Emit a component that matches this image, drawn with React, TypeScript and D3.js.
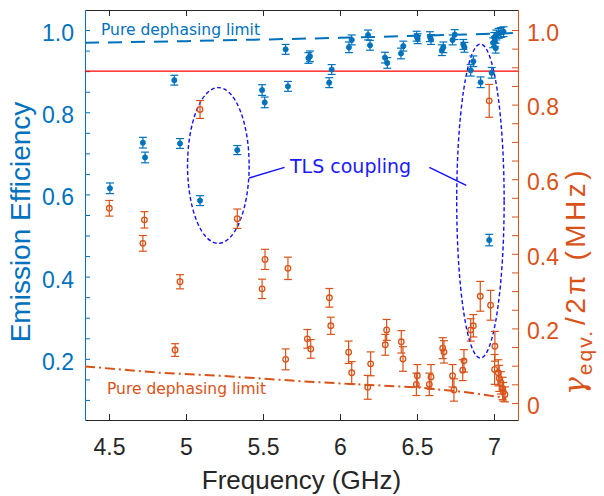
import React, { useRef, useEffect } from "react";
import * as d3 from "d3";

const W = 604;
const H = 496;

const BLUE = "#0072BD";
const ORANGE = "#D95319";
const AX = "#262626";

// Emission efficiency (left axis)
const effFreq = [
  4.506, 4.72, 4.734, 4.924, 4.961, 5.091, 5.333, 5.494, 5.511, 5.647, 5.662, 5.795, 5.805,
  5.93, 5.946, 6.058, 6.076, 6.182, 6.195, 6.292, 6.307, 6.396, 6.411, 6.498, 6.504, 6.584,
  6.591, 6.662, 6.671, 6.731, 6.745, 6.801, 6.808, 6.849, 6.866, 6.913, 6.969, 6.985, 7.006,
  7.011, 6.995, 7.002, 7.015, 7.03, 7.045, 7.062,
];
const effValue = [
  0.615, 0.726, 0.69, 0.878, 0.724, 0.585, 0.708, 0.854, 0.824, 0.953, 0.863, 0.932, 0.936,
  0.872, 0.904, 0.958, 0.976, 0.988, 0.963, 0.933, 0.92, 0.943, 0.961, 0.985, 0.979, 0.984,
  0.977, 0.951, 0.958, 0.976, 0.989, 0.965, 0.958, 0.902, 0.924, 0.873, 0.489, 0.896, 0.972,
  0.956, 0.969, 0.982, 0.988, 0.992, 0.994, 0.996,
];
const effErr = [
  0.013, 0.013, 0.013, 0.012, 0.012, 0.012, 0.011, 0.013, 0.013, 0.012, 0.012, 0.013, 0.013,
  0.012, 0.012, 0.013, 0.012, 0.012, 0.012, 0.013, 0.013, 0.013, 0.012, 0.012, 0.012, 0.012,
  0.012, 0.013, 0.013, 0.012, 0.012, 0.012, 0.012, 0.014, 0.013, 0.013, 0.014, 0.013, 0.012,
  0.012, 0.012, 0.012, 0.012, 0.012, 0.012, 0.012,
];

// gamma_eqv / 2pi in MHz (right axis)
const gamFreq = [
  4.502, 4.72, 4.73, 4.929, 4.961, 5.091, 5.333, 5.494, 5.513, 5.647, 5.662, 5.788, 5.81,
  5.931, 5.94, 6.056, 6.076, 6.18, 6.199, 6.294, 6.303, 6.398, 6.409, 6.496, 6.502, 6.58,
  6.591, 6.667, 6.675, 6.731, 6.74, 6.797, 6.805, 6.849, 6.866, 6.911, 6.969, 6.978, 7.006,
  7.004, 7.028, 7.034, 7.045, 7.056, 7.06, 7.071,
];
const gamValue = [
  0.522, 0.428, 0.491, 0.142, 0.325, 0.787, 0.494, 0.306, 0.385, 0.117, 0.361, 0.172, 0.145,
  0.282, 0.207, 0.136, 0.081, 0.042, 0.105, 0.156, 0.196, 0.164, 0.118, 0.05, 0.073, 0.05,
  0.07, 0.147, 0.137, 0.073, 0.035, 0.088, 0.113, 0.196, 0.207, 0.286, 0.81, 0.262, 0.152,
  0.09, 0.081, 0.066, 0.054, 0.039, 0.03, 0.023,
];
const gamErr = [
  0.021, 0.021, 0.022, 0.017, 0.019, 0.024, 0.026, 0.026, 0.027, 0.028, 0.03, 0.025, 0.025,
  0.025, 0.023, 0.03, 0.03, 0.032, 0.032, 0.028, 0.028, 0.03, 0.033, 0.03, 0.03, 0.03,
  0.033, 0.028, 0.03, 0.03, 0.03, 0.028, 0.03, 0.03, 0.03, 0.04, 0.044, 0.04, 0.04,
  0.04, 0.035, 0.035, 0.03, 0.03, 0.025, 0.02,
];

// pure dephasing limits
const effLimitFreq = [4.344, 5.0, 5.5, 6.0, 6.5, 7.0, 7.156];
const effLimit = [0.969, 0.973, 0.977, 0.981, 0.986, 0.991, 0.993];
const gamLimitFreq = [4.344, 4.83, 5.22, 5.8, 6.07, 6.5, 6.67, 6.82, 7.02, 7.08];
const gamLimit = [0.098, 0.081, 0.073, 0.057, 0.051, 0.042, 0.035, 0.029, 0.017, 0.013];

const xTicks = [4.5, 5, 5.5, 6, 6.5, 7];
const cutoffEff = 0.9;

export default function App() {
  const svgRef = useRef<SVGSVGElement>(null);

  useEffect(() => {
    const svg = d3.select(svgRef.current);
    svg.selectAll("*").remove();

    const margin = { top: 10, right: 86, bottom: 76, left: 85 };
    const x = d3.scaleLinear().domain([4.344, 7.156]).range([margin.left, W - margin.right]);
    const yL = d3.scaleLinear().domain([0.0512, 1.0488]).range([H - margin.bottom, margin.top]);
    const yR = d3.scaleLinear().domain([-0.0456, 1.0536]).range([H - margin.bottom, margin.top]);
    const font = "'Liberation Sans', Arial, sans-serif";
    const annFont = "'DejaVu Sans', Verdana, sans-serif";

    const isMajor = (v: number) => Math.abs(v * 5 - Math.round(v * 5)) < 1e-6;

    // axes
    const bottom = svg.append("g").attr("transform", `translate(0,${H - margin.bottom})`)
      .call(d3.axisBottom(x).tickValues(xTicks).tickSize(-6).tickSizeOuter(0).tickPadding(19).tickFormat(d3.format("")));
    const top = svg.append("g").attr("transform", `translate(0,${margin.top})`)
      .call(d3.axisTop(x).tickValues(xTicks).tickSize(-6).tickSizeOuter(0).tickFormat(() => ""));
    [bottom, top].forEach((g) => {
      g.selectAll("path,line").attr("stroke", AX).attr("stroke-width", 1);
      g.selectAll("text").attr("fill", AX).attr("font-size", 23).attr("font-family", font);
    });

    const leftTicks = d3.range(2, 21).map((i) => i * 0.05);
    const left = svg.append("g").attr("transform", `translate(${margin.left},0)`)
      .call(d3.axisLeft(yL).tickValues(leftTicks).tickSize(-5).tickSizeOuter(0).tickPadding(11)
        .tickFormat((d) => (isMajor(+d) ? d3.format(".1f")(+d) : "")));
    left.selectAll("path,line").attr("stroke", BLUE);
    left.selectAll("text").attr("fill", BLUE).attr("font-size", 23).attr("font-family", font).attr("dy", "0.45em");

    const rightTicks = d3.range(0, 21).map((i) => i * 0.05);
    const right = svg.append("g").attr("transform", `translate(${W - margin.right},0)`)
      .call(d3.axisRight(yR).tickValues(rightTicks).tickSize(-6).tickSizeOuter(0).tickPadding(9)
        .tickFormat((d) => (isMajor(+d) ? (+d === 0 ? "0" : d3.format(".1f")(+d)) : "")));
    right.selectAll("path,line").attr("stroke", ORANGE);
    right.selectAll("text").attr("fill", ORANGE).attr("font-size", 23).attr("font-family", font).attr("dy", "0.45em");

    // axis labels
    svg.append("text").attr("x", (margin.left + W - margin.right) / 2).attr("y", 489)
      .attr("text-anchor", "middle").attr("font-family", font).attr("font-size", 26).attr("fill", AX)
      .text("Frequency (GHz)");
    svg.append("text").attr("transform", "translate(30,222) rotate(-90)")
      .attr("text-anchor", "middle").attr("font-family", font).attr("font-size", 28).attr("fill", BLUE)
      .text("Emission Efficiency");
    const rl = svg.append("text").attr("transform", "translate(585,281) rotate(-90)")
      .attr("text-anchor", "middle").attr("font-family", font).attr("font-size", 28).attr("fill", ORANGE);
    rl.append("tspan").attr("font-family", "'DejaVu Serif', serif").attr("font-style", "italic")
      .attr("font-size", 30).text("γ");
    rl.append("tspan").attr("dx", 2).attr("dy", 7).attr("font-size", 21).attr("letter-spacing", 2).text("eqv.");
    rl.append("tspan").attr("dx", 4).attr("dy", -7).attr("letter-spacing", 3.5).text("/2π (MHz)");

    // cutoff line
    svg.append("line").attr("x1", margin.left).attr("x2", W - margin.right)
      .attr("y1", yL(cutoffEff)).attr("y2", yL(cutoffEff)).attr("stroke", "#ff0000").attr("stroke-width", 1.2);

    // pure dephasing limits
    const effLine = d3.line<number>().x((d) => x(d)).y((_, i) => yL(effLimit[i]));
    svg.append("path").datum(effLimitFreq).attr("d", effLine).attr("fill", "none")
      .attr("stroke", BLUE).attr("stroke-width", 2).attr("stroke-dasharray", "14,9");
    const gamLine = d3.line<number>().x((d) => x(d)).y((_, i) => yR(gamLimit[i]));
    svg.append("path").datum(gamLimitFreq).attr("d", gamLine).attr("fill", "none")
      .attr("stroke", ORANGE).attr("stroke-width", 2).attr("stroke-dasharray", "10,4,2,4");

    svg.append("text").attr("x", 101).attr("y", 35).attr("font-family", annFont).attr("font-size", 15.5)
      .attr("fill", BLUE).text("Pure dephasing limit");
    svg.append("text").attr("x", 107).attr("y", 394).attr("font-family", annFont).attr("font-size", 15.5)
      .attr("fill", ORANGE).text("Pure dephasing limit");

    // TLS ellipses (data coords)
    const ellipses = [
      { f: 5.21, df: 0.2, top: 0.86, bot: 0.481 },
      { f: 6.912, df: 0.154, top: 0.966, bot: 0.202 },
    ];
    ellipses.forEach((e) => {
      svg.append("ellipse").attr("cx", x(e.f)).attr("cy", (yL(e.top) + yL(e.bot)) / 2)
        .attr("rx", x(e.f + e.df) - x(e.f)).attr("ry", (yL(e.bot) - yL(e.top)) / 2)
        .attr("fill", "none").attr("stroke", "#1010ff").attr("stroke-width", 1.4).attr("stroke-dasharray", "4,2.5");
    });
    svg.append("line").attr("x1", x(5.41)).attr("y1", yL(0.64)).attr("x2", x(5.64)).attr("y2", yL(0.666))
      .attr("stroke", "#1010ff").attr("stroke-width", 1.4);
    svg.append("line").attr("x1", x(6.58)).attr("y1", yL(0.666)).attr("x2", x(6.82)).attr("y2", yL(0.622))
      .attr("stroke", "#1010ff").attr("stroke-width", 1.4);
    svg.append("text").attr("x", 290).attr("y", 173).attr("font-family", annFont).attr("font-size", 19)
      .attr("fill", "#1a1aff").text("TLS coupling");

    // error bars
    const drawSeries = (
      freq: number[], vals: number[], errs: number[], y: d3.ScaleLinear<number, number>, color: string, open: boolean
    ) => {
      const g = svg.append("g").attr("stroke", color).attr("stroke-width", 1.2);
      freq.forEach((f, i) => {
        const cx = x(f);
        const y0 = y(vals[i] - errs[i]);
        const y1 = y(vals[i] + errs[i]);
        g.append("line").attr("x1", cx).attr("x2", cx).attr("y1", y0).attr("y2", y1);
        g.append("line").attr("x1", cx - 4).attr("x2", cx + 4).attr("y1", y0).attr("y2", y0);
        g.append("line").attr("x1", cx - 4).attr("x2", cx + 4).attr("y1", y1).attr("y2", y1);
        g.append("circle").attr("cx", cx).attr("cy", y(vals[i])).attr("r", open ? 2.8 : 2.6)
          .attr("fill", open ? "none" : color).attr("stroke-width", open ? 1.3 : 0.8);
      });
    };
    drawSeries(gamFreq, gamValue, gamErr, yR, ORANGE, true);
    drawSeries(effFreq, effValue, effErr, yL, BLUE, false);
  }, []);

  return (
    <svg
      ref={svgRef}
      width={W}
      height={H}
      style={{ position: "absolute", left: 0, top: 0, background: "#fff" }}
    />
  );
}
